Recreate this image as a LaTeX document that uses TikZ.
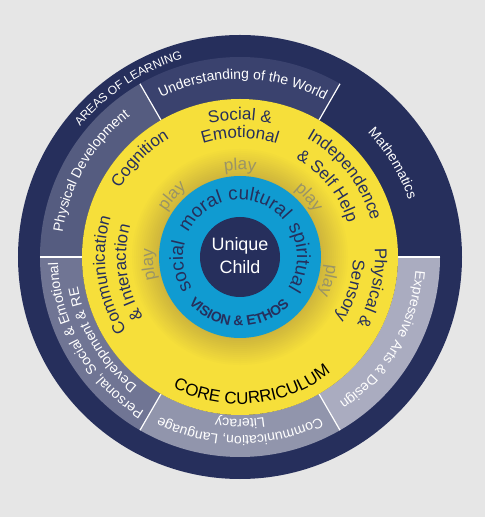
\documentclass[tikz,border=0pt]{standalone}
\usepackage{fontspec}
\setmainfont{Liberation Sans}
\usetikzlibrary{decorations.text}

\definecolor{navy}{HTML}{262F5C}
\definecolor{pagegray}{HTML}{E6E6E6}
\definecolor{ringyellow}{HTML}{F6DF3A}
\definecolor{shadegold}{HTML}{CDB43C}
\definecolor{ethosblue}{HTML}{109BD1}
\definecolor{playgray}{HTML}{9A9466}
\definecolor{bandPD}{HTML}{555C80}
\definecolor{bandUW}{HTML}{3A426E}
\definecolor{bandEA}{HTML}{AAACC0}
\definecolor{bandCL}{HTML}{9195AC}
\definecolor{bandPS}{HTML}{707594}

\newcommand{\areafont}{\fontsize{14}{14}\selectfont}
\newcommand{\corefont}{\fontsize{17}{17}\selectfont}
\newcommand{\ethosfont}{\fontsize{19}{19}\selectfont}

\tikzset{
  arctext/.style 2 args={decorate, decoration={text along path, text align=center,
    text color=#1, text/.expand once=#2}},
}

\begin{document}
\begin{tikzpicture}[x=1bp, y=1bp]
\useasboundingbox (-240,-260) rectangle (245,257);
\fill[pagegray] (-240,-260) rectangle (245,257);

% rings
\fill[navy] (0,0) circle[radius=222];
\foreach \a/\b/\c in {120/180/bandPD, 60/120/bandUW, 0/60/navy, -60/0/bandEA, -120/-60/bandCL, -180/-120/bandPS}
  \fill[\c] (\a:200) arc[start angle=\a, end angle=\b, radius=200] -- (\b:158)
    arc[start angle=\b, end angle=\a, radius=158] -- cycle;
\foreach \a in {0,60,...,300}
  \draw[white, line width=1.2] (\a:158) -- (\a:200);
\fill[ringyellow] (0,0) circle[radius=158];
\foreach \i in {0,...,14} {
  \pgfmathtruncatemacro\p{100-\i*7}
  \fill[ringyellow!\p!shadegold] (0,0) circle[radius=110-2*\i];
}
\fill[ethosblue] (0,0) circle[radius=81];
\fill[navy] (0,0) circle[radius=40];
\node[text=white, align=center, font=\fontsize{18}{23}\selectfont] (child) at (0,1) {Unique\\Child};

% areas of learning
{\fontsize{12}{12}\selectfont
\path[arctext={white}{AREAS OF LEARNING}] (183.5:206) arc[start angle=183.5, end angle=63.5, radius=206];}
\foreach \a/\r/\t in {150/179/Physical Development, 89/178/Understanding of the World,
    31.5/178/Mathematics, -30/176/Expressive Arts {\&} Design, -90/179/{Communication, Language},
    -90/162/Literacy, -150/182/{Personal, Social {\&} Emotional}, -149/165/Development {\&} RE}
  {\areafont \path[arctext={white}{\t}] (\a+60:\r) arc[start angle=\a+60, end angle=\a-60, radius=\r];}

% core curriculum
\foreach \a/\r/\t in {90/137/Social {\&}, 90/119/Emotional, 135.5/138/Cognition,
    38/136/Independence, 39/113/{\&} Self Help, -13/135/Physical {\&}, -17/113/Sensory,
    188/135/Communication, 188/114/{\&} Interaction}
  {\corefont \path[arctext={navy}{\t}] (\a+60:\r) arc[start angle=\a+60, end angle=\a-60, radius=\r];}
\foreach \a in {90,138,41,185,-15}
  {\corefont \path[arctext={playgray}{play}] (\a+40:87) arc[start angle=\a+40, end angle=\a-40, radius=87];}
{\corefont
\path[arctext={black}{CORE CURRICULUM}] (-144.5:147) arc[start angle=-144.5, end angle=-24.5, radius=147];}

% vision and ethos
\foreach \a/\t in {189/social, 131/moral, 70.5/cultural, 0/spiritual}
  {\ethosfont \path[arctext={navy}{\t}] (\a+60:57) arc[start angle=\a+60, end angle=\a-60, radius=57];}
{\fontsize{14}{14}\selectfont\bfseries
\path[arctext={navy}{VISION {\&} ETHOS}] (-161:69) arc[start angle=-161, end angle=-21, radius=69];}
\end{tikzpicture}
\end{document}
